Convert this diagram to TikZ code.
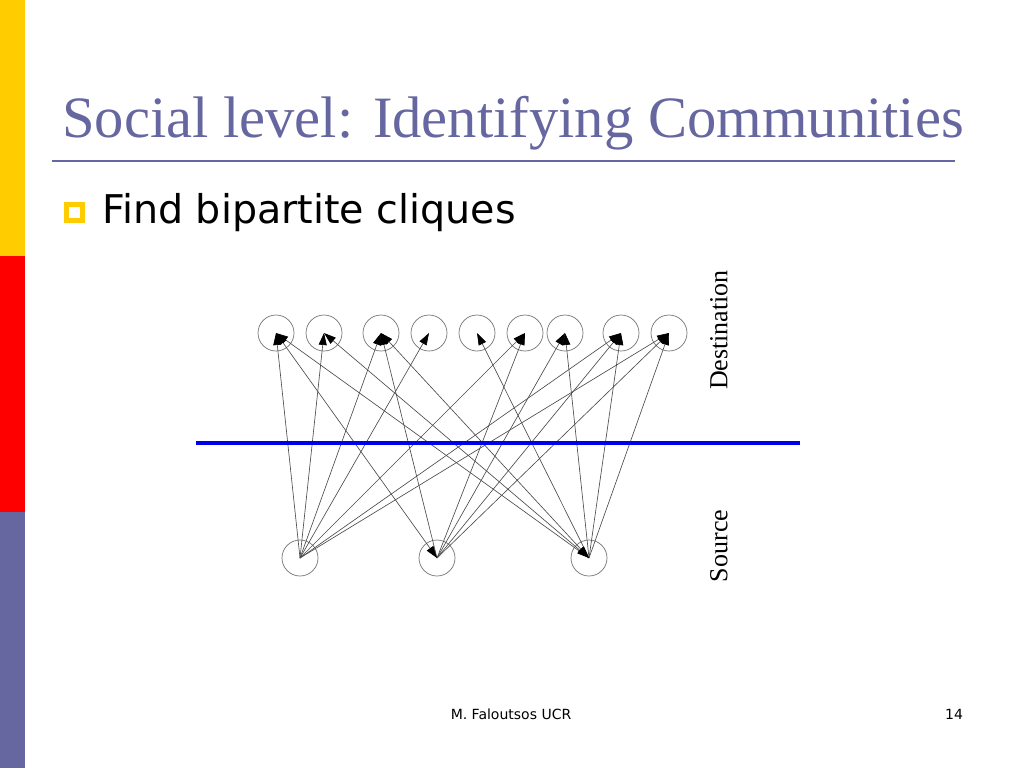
\documentclass[tikz,border=0pt]{standalone}
\usepackage{fontspec}
\setmainfont{Liberation Serif}
\newfontfamily\verdanafont{DejaVu Sans}
\usetikzlibrary{arrows.meta}
\definecolor{slate}{HTML}{6666A0}
\definecolor{barYellow}{HTML}{FFCC00}
\definecolor{barRed}{HTML}{FF0000}
\definecolor{lineBlue}{HTML}{0000F0}
\tikzset{
  vertex/.style={draw=black!55, circle, minimum size=36pt, inner sep=0pt, line width=0.7pt},
  edge/.style={draw=black!70, line width=0.65pt},
  tip/.style={-{Triangle[length=12pt,width=8pt,color=black]}},
  twotips/.style={{Triangle[length=12pt,width=8pt,color=black]}-{Triangle[length=12pt,width=8pt,color=black]}}
}
\begin{document}
\begin{tikzpicture}[x=1pt,y=-1pt]
		\useasboundingbox (0,0) rectangle (1024,768);
		% side bar
		\fill[barYellow] (0,0) rectangle (25,256);
		\fill[barRed] (0,256) rectangle (25,512);
		\fill[slate] (0,512) rectangle (25,768);
		% title
		\node[anchor=base west, inner sep=0pt, text=slate, font=\fontsize{58.6}{58.6}\selectfont] (title) at (62,137) {Social level: Identifying Communities};
		\draw[slate, line width=2pt] (52,161) -- (955,161);
		% bullet
		\draw[barYellow, line width=5pt] (66.5,204.2) rectangle (82.5,220.8);
		\node[anchor=base west, inner sep=0pt, font=\verdanafont\fontsize{39.6}{39.6}\selectfont] (bullet) at (102,223) {Find bipartite cliques};
		% graph
		\foreach \n/\x in {1/276,2/324,3/381,4/429,5/477,6/525,7/565,8/621,9/669}
			\node[vertex] (d\n) at (\x,333) {};
		\foreach \n/\x in {1/300,2/437,3/589}
			\node[vertex] (s\n) at (\x,558) {};
		\foreach \s/\d in {1/1,1/2,1/3,1/4,1/6,1/8,1/9,2/3,2/6,2/7,2/8,2/9,3/1,3/5,3/7,3/8,3/9}
			\draw[edge,tip] (s\s.center) -- (d\d.center);
		\foreach \s/\d in {2/1,3/2,3/3}
			\draw[edge,twotips] (s\s.center) -- (d\d.center);
		\draw[lineBlue, line width=4pt] (196,443) -- (800,443);
		\node[rotate=90, font=\fontsize{26}{26}\selectfont] (destlabel) at (719,330) {Destination};
		\node[rotate=90, font=\fontsize{26}{26}\selectfont] (srclabel) at (719,546) {Source};
		% footer
		\node[anchor=base, font=\verdanafont\fontsize{14}{14}\selectfont] (author) at (511,719) {M. Faloutsos UCR};
		\node[anchor=base, font=\verdanafont\fontsize{14}{14}\selectfont] (page) at (954,719) {14};
\end{tikzpicture}
\end{document}
